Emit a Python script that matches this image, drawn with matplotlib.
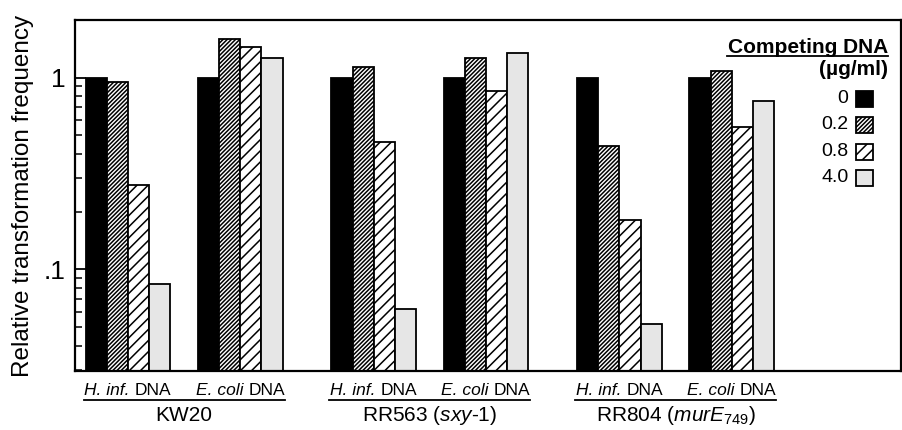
import matplotlib
matplotlib.use("Agg")
import matplotlib.pyplot as plt
from matplotlib.patches import Rectangle
from matplotlib.ticker import LogLocator, FixedFormatter, FixedLocator, NullFormatter

plt.rcParams['font.family'] = ['Liberation Sans', 'DejaVu Sans']
plt.rcParams['mathtext.fontset'] = 'custom'
plt.rcParams['mathtext.rm'] = 'Liberation Sans'
plt.rcParams['mathtext.it'] = 'Liberation Sans:italic'
plt.rcParams['mathtext.bf'] = 'Liberation Sans:bold'
plt.rcParams['hatch.linewidth'] = 1.1

# ---- data ----
strains = ["KW20", r"RR563 ($\mathit{sxy}$-$\mathit{1}$)", r"RR804 ($\mathit{murE}_{\mathit{749}}$)"]
source_italic = ["H. inf.", "E. coli"]
source_plain = "DNA"
concentrations = ["0", "0.2", "0.8", "4.0"]
kw20_hinf = [1.0, 0.95, 0.274, 0.084]
kw20_ecoli = [1.0, 1.60, 1.44, 1.27]
rr563_hinf = [1.0, 1.14, 0.462, 0.062]
rr563_ecoli = [1.0, 1.26, 0.852, 1.35]
rr804_hinf = [1.0, 0.442, 0.1815, 0.052]
rr804_ecoli = [1.0, 1.08, 0.551, 0.759]
values = [[kw20_hinf, kw20_ecoli], [rr563_hinf, rr563_ecoli], [rr804_hinf, rr804_ecoli]]

# ---- styles ----
faces = ["black", "white", "white", "#e6e6e6"]
hatches = [None, "////////", "///", None]

fig = plt.figure(figsize=(9.03, 4.30), dpi=100)
ax = fig.add_axes([0.0831, 0.1372, 0.9149, 0.8163])
renderer = fig.canvas.get_renderer()

bw = 1.0
strain_step = 11.6
source_step = 5.3
first = 0.5
bottom_val = 0.0295

ax.set_yscale('log')
ax.set_ylim(bottom_val, 2.0)
ax.set_xlim(0, 39.0)


def text_width(s, **kw):
    t = fig.text(0, 0, s, **kw)
    w = t.get_window_extent(renderer).width
    t.remove()
    return w


def mixed_label(xdata, yax, italic, plain, fontsize):
    w_it = text_width(italic, fontsize=fontsize, style='italic')
    w_rm = text_width(plain, fontsize=fontsize)
    w_sp = text_width("x x", fontsize=fontsize) - text_width("xx", fontsize=fontsize)
    total = w_it + w_sp + w_rm
    xc_disp = ax.transData.transform((xdata, 1.0))[0]
    inv = ax.transAxes.inverted()
    x_left = inv.transform((xc_disp - total / 2, 0))[0]
    x_rm = inv.transform((xc_disp - total / 2 + w_it + w_sp, 0))[0]
    ax.text(x_left, yax, italic, transform=ax.transAxes, ha='left', va='baseline',
            fontsize=fontsize, style='italic')
    ax.text(x_rm, yax, plain, transform=ax.transAxes, ha='left', va='baseline',
            fontsize=fontsize)


for i, strain in enumerate(strains):
    for j in range(2):
        start = first + i * strain_step + j * source_step
        for k, v in enumerate(values[i][j]):
            ax.bar(start + k * bw, v - bottom_val, bottom=bottom_val, width=bw, align='edge',
                   color=faces[k], edgecolor='black', linewidth=1.3, hatch=hatches[k])
        mixed_label(start + 2 * bw, -0.069, source_italic[j], source_plain, 12.5)
    s0 = first + i * strain_step - 0.1
    s1 = first + i * strain_step + source_step + 4 * bw + 0.1
    ax.plot([s0, s1], [-0.083, -0.083], transform=ax.get_xaxis_transform(),
            color='black', lw=1.3, clip_on=False)
    ax.text((s0 + s1) / 2, -0.127, strain, transform=ax.get_xaxis_transform(),
            ha='center', va='center', fontsize=15)

ax.set_xticks([])
ax.yaxis.set_major_locator(FixedLocator([0.1, 1.0]))
ax.yaxis.set_major_formatter(FixedFormatter([".1", "1"]))
ax.yaxis.set_minor_locator(LogLocator(base=10, subs=[2, 3, 4, 5, 6, 7, 8, 9]))
ax.yaxis.set_minor_formatter(NullFormatter())
ax.tick_params(axis='y', which='major', direction='in', length=8, width=1.3, labelsize=19, pad=7)
ax.tick_params(axis='y', which='minor', direction='in', length=5, width=1.1)
for sp in ax.spines.values():
    sp.set_linewidth(1.6)
ax.set_ylabel("Relative transformation frequency", fontsize=17.5, labelpad=7)

# ---- legend ----
ax.text(0.984, 0.923, "Competing DNA", transform=ax.transAxes, ha='right', va='center',
        fontsize=15, fontweight='bold')
ax.plot([0.789, 0.984], [0.897, 0.897], transform=ax.transAxes, color='black', lw=1.3)
ax.text(0.984, 0.858, "(µg/ml)", transform=ax.transAxes, ha='right', va='center',
        fontsize=15, fontweight='bold')
leg_y = [0.775, 0.701, 0.624, 0.550]
bw_ax = 0.0206
bh_ax = 0.048
for k, lab in enumerate(concentrations):
    ax.add_patch(Rectangle((0.9455, leg_y[k] - bh_ax / 2), bw_ax, bh_ax, transform=ax.transAxes,
                           facecolor=faces[k], edgecolor='black', lw=1.3, hatch=hatches[k]))
    ax.text(0.936, leg_y[k], lab, transform=ax.transAxes, ha='right', va='center', fontsize=14)

fig.savefig("out.png", dpi=100)
